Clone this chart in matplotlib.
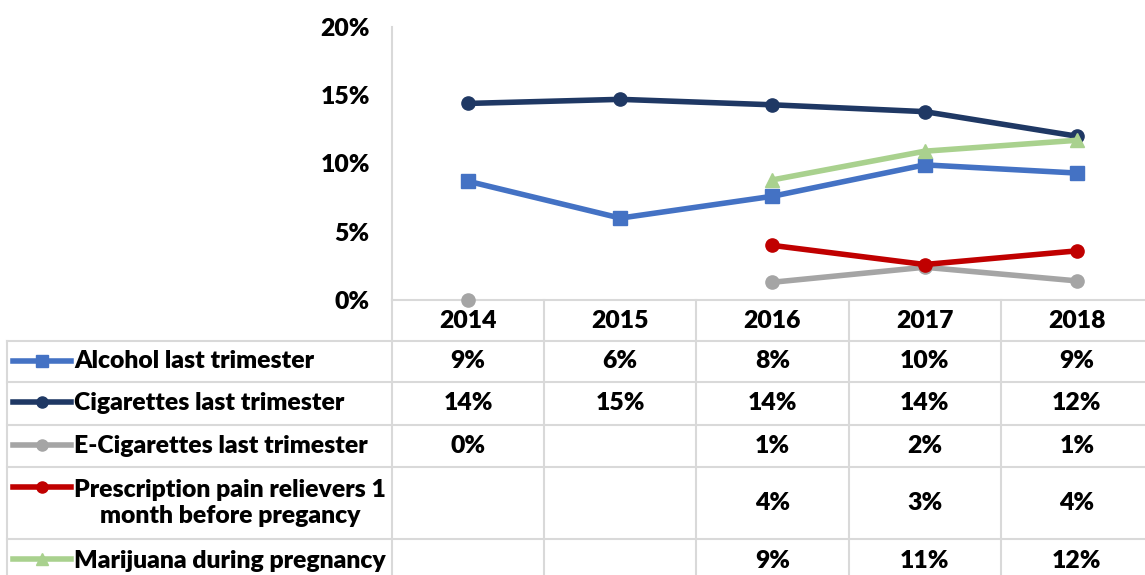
import numpy as np
import matplotlib.pyplot as plt
from matplotlib.lines import Line2D
from matplotlib.transforms import blended_transform_factory

# data (percent); nan = no survey value
years = ["2014", "2015", "2016", "2017", "2018"]
alcohol = [8.7, 6.0, 7.6, 9.9, 9.3]
cigarettes = [14.4, 14.7, 14.3, 13.8, 12.0]
ecig = [0.0, np.nan, 1.3, 2.4, 1.4]
pain_relievers = [np.nan, np.nan, 4.0, 2.6, 3.6]
marijuana = [np.nan, np.nan, 8.8, 10.9, 11.7]

labels = [
    "Alcohol last trimester",
    "Cigarettes last trimester",
    "E-Cigarettes last trimester",
    "Prescription pain relievers 1\nmonth before pregancy",
    "Marijuana during pregnancy",
]
yticks = [0, 5, 10, 15, 20]

SERIES = [alcohol, cigarettes, ecig, pain_relievers, marijuana]
COLORS = ["#4472C4", "#1F3864", "#A5A5A5", "#C00000", "#A9D18E"]
MARKERS = ["s", "o", "o", "o", "^"]
GRID = "#D9D9D9"
FONT = dict(family="Lato", fontweight="heavy", fontsize=17.8)

W, H = 1145, 575
fig = plt.figure(figsize=(W / 100, H / 100), dpi=100)

# plot area in pixel layout
x0, x1, y_top, y_bot = 392, 1153, 27, 300
ax = fig.add_axes([x0 / W, 1 - y_bot / H, (x1 - x0) / W, (y_bot - y_top) / H])
x = np.arange(len(years))
for vals, col, mk in zip(SERIES, COLORS, MARKERS):
    ax.plot(x, vals, color=col, lw=4, marker=mk, ms=9.5, solid_capstyle="round",
            clip_on=False, zorder=3)
ax.set_xlim(-0.5, len(years) - 0.5)
ax.set_ylim(0, 20)
ax.set_yticks(yticks)
ax.set_yticklabels([f"{v}%" for v in yticks], **FONT)
ax.tick_params(axis="y", length=0, pad=16)
ax.set_xticks([])
for s in ["top", "right"]:
    ax.spines[s].set_visible(False)
ax.spines["left"].set_color(GRID)
ax.spines["bottom"].set_color(GRID)
ax.spines["left"].set_linewidth(1.5)
ax.spines["bottom"].set_linewidth(1.5)

# overlay for the data table, y in pixels from top
tab = fig.add_axes([0, 0, 1, 1])
tab.set_xlim(0, W)
tab.set_ylim(H, 0)
tab.axis("off")
tr = blended_transform_factory(ax.transData, tab.transData)

row_heights = [41, 43, 42, 72, 44]
row_top = 341
bounds = [row_top] + list(row_top + np.cumsum(row_heights))

# header years
for i, yr in enumerate(years):
    tab.text(i, 321, yr, transform=tr, ha="center", va="center", **FONT)

# grid lines
for yb in bounds[:-1]:
    tab.plot([7, W], [yb, yb], color=GRID, lw=1.5, clip_on=False)
tab.plot([7, 7], [row_top, H], color=GRID, lw=1.5)
tab.plot([x0, x0], [y_bot, H], color=GRID, lw=1.5)
for k in range(1, len(years)):
    tab.plot([k - 0.5, k - 0.5], [y_bot, H], color=GRID, lw=1.5, transform=tr)

# rows: legend key, label and values
for r, (vals, col, mk, lab) in enumerate(zip(SERIES, COLORS, MARKERS, labels)):
    top, bot = bounds[r], bounds[r + 1]
    yc = (top + bot) / 2
    tab.add_line(Line2D([13, 71], [top + 20, top + 20], color=col, lw=4))
    tab.plot([42], [top + 20], marker=mk, color=col, ms=8)
    tab.text(74, yc, lab, ha="left", va="center", multialignment="center",
             linespacing=1.2, **FONT)
    for i, v in enumerate(vals):
        if not np.isnan(v):
            tab.text(i, yc, f"{v:.0f}%", transform=tr, ha="center", va="center", **FONT)

fig.savefig("out.png", dpi=100)
